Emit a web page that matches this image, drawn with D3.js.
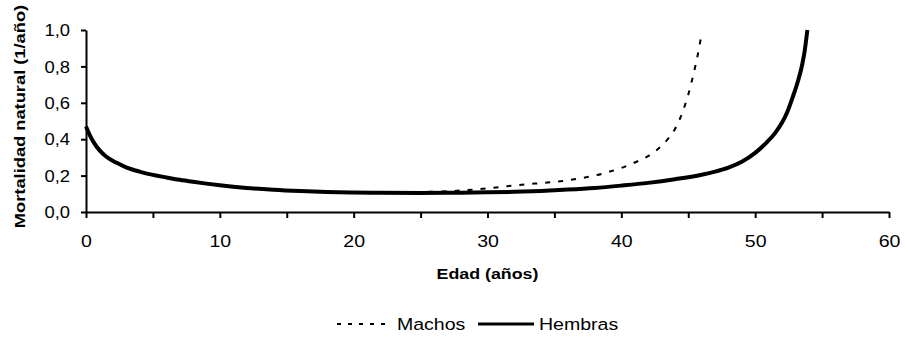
<!DOCTYPE html>
<html>
<head>
<meta charset="utf-8">
<script src="https://cdn.jsdelivr.net/npm/d3@7"></script>
<style>
  body { margin: 0; background: #fff; }
  svg { display: block; font-family: Arial, "Liberation Sans", sans-serif; }
</style>
</head>
<body>
<script>
// edad (años) y mortalidad natural (1/año)
const hembrasEdad = [0, 0.3, 0.6, 1, 1.5, 2.3, 3, 4, 5, 6, 7, 8, 9, 10, 11, 12, 14, 16, 18, 20, 22, 25, 28, 30, 32, 34, 36, 38, 40, 42, 44, 46, 47, 48, 49, 50, 50.9, 51.5, 52, 52.4, 52.8, 53.2, 53.5, 53.7, 53.9]
const hembrasM = [0.47, 0.42, 0.38, 0.34, 0.305, 0.27, 0.245, 0.222, 0.204, 0.19, 0.177, 0.166, 0.156, 0.147, 0.139, 0.132, 0.122, 0.115, 0.11, 0.107, 0.106, 0.105, 0.106, 0.108, 0.111, 0.116, 0.123, 0.132, 0.145, 0.16, 0.18, 0.205, 0.222, 0.244, 0.276, 0.325, 0.385, 0.435, 0.49, 0.55, 0.63, 0.72, 0.805, 0.885, 1.0]

const machosEdad = [0, 0.3, 0.6, 1, 1.5, 2.3, 3, 4, 5, 6, 7, 8, 9, 10, 11, 12, 14, 16, 18, 20, 22, 25, 28, 30, 31, 32, 33, 34, 35, 36, 37, 38, 39, 40, 41, 42, 42.5, 43, 43.5, 44, 44.5, 45, 45.4, 45.7, 46]
const machosM = [0.47, 0.42, 0.38, 0.34, 0.305, 0.27, 0.245, 0.222, 0.204, 0.19, 0.177, 0.166, 0.156, 0.147, 0.139, 0.132, 0.122, 0.115, 0.11, 0.107, 0.108, 0.11, 0.118, 0.13, 0.138, 0.146, 0.153, 0.159, 0.166, 0.174, 0.186, 0.2, 0.219, 0.242, 0.272, 0.307, 0.332, 0.363, 0.403, 0.455, 0.535, 0.645, 0.76, 0.86, 0.98]

const xTicks = [0, 10, 20, 30, 40, 50, 60]
const yTicks = [0, 0.2, 0.4, 0.6, 0.8, 1.0]
const series = [
  {name: "Machos", edad: machosEdad, m: machosM, dash: "5,8", width: 2},
  {name: "Hembras", edad: hembrasEdad, m: hembrasM, dash: null, width: 4}
]

const width = 905, height = 337
const margin = {left: 86, right: 889, top: 30, bottom: 212}
const sx = 1.15 // el escaneo original está algo estirado en horizontal

const svg = d3.select('body').append('svg')
  .attr('width', width)
  .attr('height', height)

const x = d3.scaleLinear().domain([0, 60]).range([margin.left, margin.right])
const y = d3.scaleLinear().domain([0, 1]).range([margin.bottom, margin.top])

const stretch = (sel, k) => sel.each(function() {
  const t = d3.select(this)
  const ax = +t.attr('x') || 0
  t.attr('transform', `translate(${ax * (1 - k)},0) scale(${k},1)`)
})

const fmt = d => d3.format('.1f')(d).replace('.', ',')

// eje x
const gx = svg.append('g')
  .attr('transform', `translate(0,${margin.bottom})`)
  .call(d3.axisBottom(x).tickValues(d3.range(0, 61, 5)).tickSize(6).tickSizeOuter(0)
    .tickFormat(d => xTicks.includes(d) ? d : ''))
gx.select('.domain').attr('stroke-width', 2)
gx.selectAll('.tick line').attr('stroke-width', 2)
gx.selectAll('.tick text')
  .attr('y', 35).attr('dy', null)
  .attr('font-size', 17).attr('fill', '#000')
  .call(stretch, sx)

// eje y
const gy = svg.append('g')
  .attr('transform', `translate(${margin.left},0)`)
  .call(d3.axisLeft(y).tickValues(yTicks).tickSize(5).tickSizeOuter(0).tickFormat(fmt))
gy.select('.domain').attr('stroke-width', 2)
gy.selectAll('.tick line').attr('stroke-width', 2)
gy.selectAll('.tick text')
  .attr('x', -16).attr('dy', '0.36em')
  .attr('font-size', 16).attr('fill', '#000')
  .call(stretch, sx)

// títulos
svg.append('text')
  .attr('x', (margin.left + margin.right) / 2).attr('y', 279)
  .attr('text-anchor', 'middle')
  .attr('font-size', 15.5).attr('font-weight', 'bold')
  .text('Edad (años)')
  .call(stretch, sx)

svg.append('text')
  .attr('transform', `translate(24.5,116.5) rotate(-90) scale(${sx + 0.03},1)`)
  .attr('text-anchor', 'middle')
  .attr('font-size', 15.5).attr('font-weight', 'bold')
  .text('Mortalidad natural (1/año)')

// curvas
const line = d3.line()
  .x(d => x(d[0]))
  .y(d => y(d[1]))
  .curve(d3.curveMonotoneX)

svg.selectAll('.serie')
  .data(series)
  .enter().append('path')
    .attr('class', 'serie')
    .attr('d', s => line(d3.zip(s.edad, s.m)))
    .attr('fill', 'none')
    .attr('stroke', '#000')
    .attr('stroke-width', s => s.width)
    .attr('stroke-dasharray', s => s.dash)

// leyenda
const legend = [
  {s: series[0], x0: 337, x1: 392, tx: 397, dash: "4,7"},
  {s: series[1], x0: 478, x1: 534, tx: 539, dash: null}
]
legend.forEach(l => {
  svg.append('line')
    .attr('x1', l.x0).attr('x2', l.x1)
    .attr('y1', 324).attr('y2', 324)
    .attr('stroke', '#000')
    .attr('stroke-width', l.dash ? 2 : 3)
    .attr('stroke-dasharray', l.dash)
  svg.append('text')
    .attr('x', l.tx).attr('y', 330)
    .attr('font-size', 17).attr('fill', '#000')
    .text(l.s.name)
    .call(stretch, sx)
})
</script>
</body>
</html>
